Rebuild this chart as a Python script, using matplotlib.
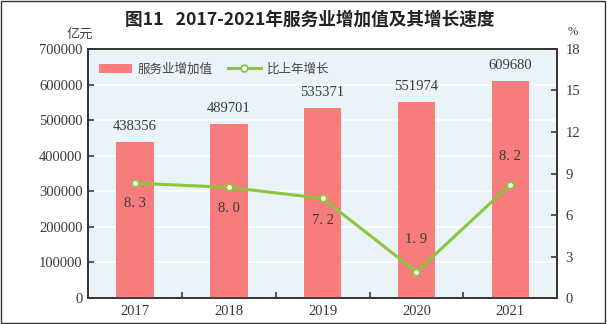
import matplotlib
matplotlib.use("Agg")
import matplotlib.pyplot as plt
from matplotlib.patches import Rectangle

plt.rcParams['font.family'] = ['Liberation Serif', 'Noto Sans CJK SC']

# data
years = ['2017', '2018', '2019', '2020', '2021']
value_added = [438356, 489701, 535371, 551974, 609680]
growth = [8.3, 8.0, 7.2, 1.9, 8.2]
growth_labels = ['8. 3', '8. 0', '7. 2', '1. 9', '8. 2']
left_ticks = [0, 100000, 200000, 300000, 400000, 500000, 600000, 700000]
right_ticks = [0, 3, 6, 9, 12, 15, 18]

cjk = ['Noto Sans CJK SC', 'DejaVu Sans']
bar_color = '#f77c7c'
line_color = '#8cc63f'
bg_color = '#eaf3f8'
txt = '#3a3a3a'
fs = 10.5

fig = plt.figure(figsize=(6.07, 3.24), dpi=100)
ax = fig.add_axes([0.145, 0.080, 0.773, 0.769])
ax.set_facecolor(bg_color)

x = list(range(len(years)))
bars = ax.bar(x, value_added, width=0.4, color=bar_color, zorder=3, label='服务业增加值')
ax.set_xlim(-0.5, 4.5)
ax.set_ylim(0, 700000)
ax.set_yticks(left_ticks)
ax.set_yticklabels([str(t) for t in left_ticks])
ax.set_xticks(x)
ax.set_xticklabels(years)
ax.set_xticks([0.5, 1.5, 2.5, 3.5], minor=True)
ax.yaxis.grid(True, color='white', linewidth=1.2, zorder=1)
ax.set_axisbelow(True)
ax.tick_params(axis='y', direction='in', length=4, width=1.2, labelsize=fs, colors=txt, pad=4)
ax.tick_params(axis='x', which='major', length=0, labelsize=fs, colors=txt, pad=5)
ax.tick_params(axis='x', which='minor', direction='in', length=4, width=1.2, color=txt)

for xi, v in zip(x, value_added):
    ax.text(xi, v + 25000, str(v), ha='center', va='bottom', fontsize=fs, color=txt)

ax2 = ax.twinx()
ax2.set_ylim(0, 18)
ax2.set_yticks(right_ticks)
ax2.tick_params(axis='y', direction='in', length=4, width=1.2, labelsize=fs, colors=txt, pad=6)
line, = ax2.plot(x, growth, color=line_color, linewidth=2.2, marker='o', markersize=4.8,
                 markerfacecolor='white', markeredgecolor=line_color, markeredgewidth=1.3,
                 zorder=4, label='比上年增长')

# growth labels: below for first three, above for last two
offsets = [-1.5, -1.5, -1.6, 2.3, 2.0]
for xi, g, lab, off in zip(x, growth, growth_labels, offsets):
    ax2.text(xi, g + off, lab, ha='center', va='center', fontsize=fs, color=txt, zorder=5)

for a in (ax, ax2):
    for s in a.spines.values():
        s.set_color('#333333')
        s.set_linewidth(1.2)

leg = ax.legend(handles=[bars, line], loc='upper left', bbox_to_anchor=(0.0, 0.99),
                ncol=2, frameon=False, prop={'family': cjk, 'size': 9},
                handlelength=2.6, handleheight=0.8, columnspacing=1.2, handletextpad=0.5)
for t in leg.get_texts():
    t.set_color('#444444')

fig.text(0.511, 0.938, '图11   2017-2021年服务业增加值及其增长速度', ha='center', va='center',
         fontsize=12.7, fontweight='bold', family=cjk, color='#222222')
fig.text(0.132, 0.895, '亿元', ha='center', va='center', fontsize=9.5, family=cjk, color='#444444')
fig.text(0.944, 0.900, '%', ha='center', va='center', fontsize=9, color='#444444')

fig.patches.append(Rectangle((0.002, 0.003), 0.995, 0.993, transform=fig.transFigure,
                             fill=False, edgecolor='#333333', linewidth=1))

fig.savefig('out.png', dpi=100)
